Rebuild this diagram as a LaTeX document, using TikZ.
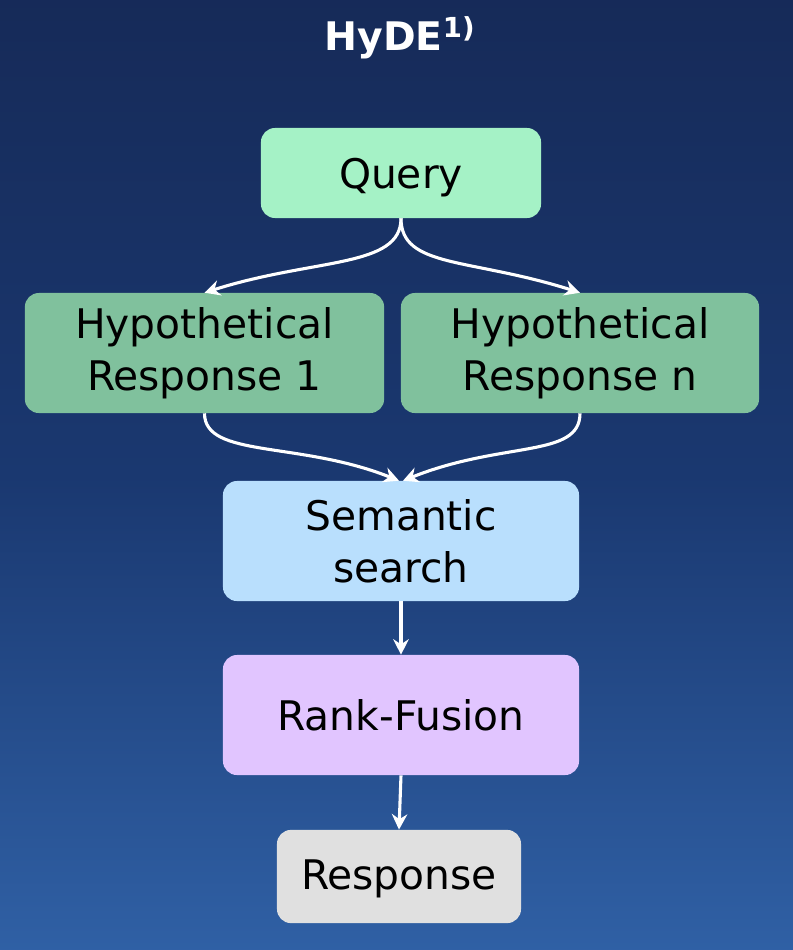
\documentclass[tikz,border=0pt]{standalone}
\usepackage{fontspec}
\setmainfont{DejaVu Sans}
\usetikzlibrary{arrows.meta, positioning, calc}

\definecolor{bgtop}{HTML}{162A58}
\definecolor{bgmid}{HTML}{1A3870}
\definecolor{bgbot}{HTML}{3061A6}
\definecolor{queryfill}{HTML}{A5F2C6}
\definecolor{hypfill}{HTML}{80C19D}
\definecolor{semfill}{HTML}{B9DFFD}
\definecolor{rankfill}{HTML}{E1C5FF}
\definecolor{respfill}{HTML}{E0E0E0}

\begin{document}
\begin{tikzpicture}[x=0.025cm, y=-0.025cm, >=Stealth,
		box/.style={rounded corners=0.35cm, align=center, text=black,
			font=\fontsize{29}{37}\selectfont, inner sep=0pt},
		flow/.style={->, white, line width=2.2pt, arrows={-Stealth[length=11pt, width=11pt]}}]
				\useasboundingbox (0,0) rectangle (792,950);
				\shade[top color=bgtop, bottom color=bgbot, middle color=bgmid] (-10,-10) rectangle (802,960);
				
				\node[text=white, font=\bfseries\fontsize{28}{32}\selectfont] (title) at (400,38) {HyDE\textsuperscript{1)}};
				
				\node[box, fill=queryfill, minimum width=7cm, minimum height=2.25cm] (query) at (401,173) {\raisebox{-3pt}[\height][\depth]{Query}};
				\node[box, fill=hypfill, minimum width=8.98cm, minimum height=3cm] (hyp1) at (204.5,353) {Hypothetical\\Response 1};
				\node[box, fill=hypfill, minimum width=8.95cm, minimum height=3cm] (hypn) at (580,353) {Hypothetical\\Response n};
				\node[box, fill=semfill, minimum width=8.9cm, minimum height=3cm] (sem) at (401,541) {Semantic\\search};
				\node[box, fill=rankfill, minimum width=8.9cm, minimum height=3cm] (rank) at (401,715) {Rank-Fusion};
				\node[box, fill=respfill, minimum width=6.1cm, minimum height=2.33cm] (resp) at (399,876.5) {\raisebox{-2pt}[\height][\depth]{Response}};
				
				\draw[flow] (query.south) .. controls +(0,50) and +(110,-35) .. (hyp1.north);
				\draw[flow] (query.south) .. controls +(0,50) and +(-110,-35) .. (hypn.north);
				
				\draw[flow] (hyp1.south) .. controls +(0,45) and +(-100,-40) .. ($(sem.north)+(-2,0)$);
				\draw[flow] (hypn.south) .. controls +(0,45) and +(100,-40) .. ($(sem.north)+(2,0)$);
				
				\draw[flow] (sem.south) -- (rank.north);
				\draw[flow] (rank.south) -- (resp.north);
			\end{tikzpicture}
\end{document}
